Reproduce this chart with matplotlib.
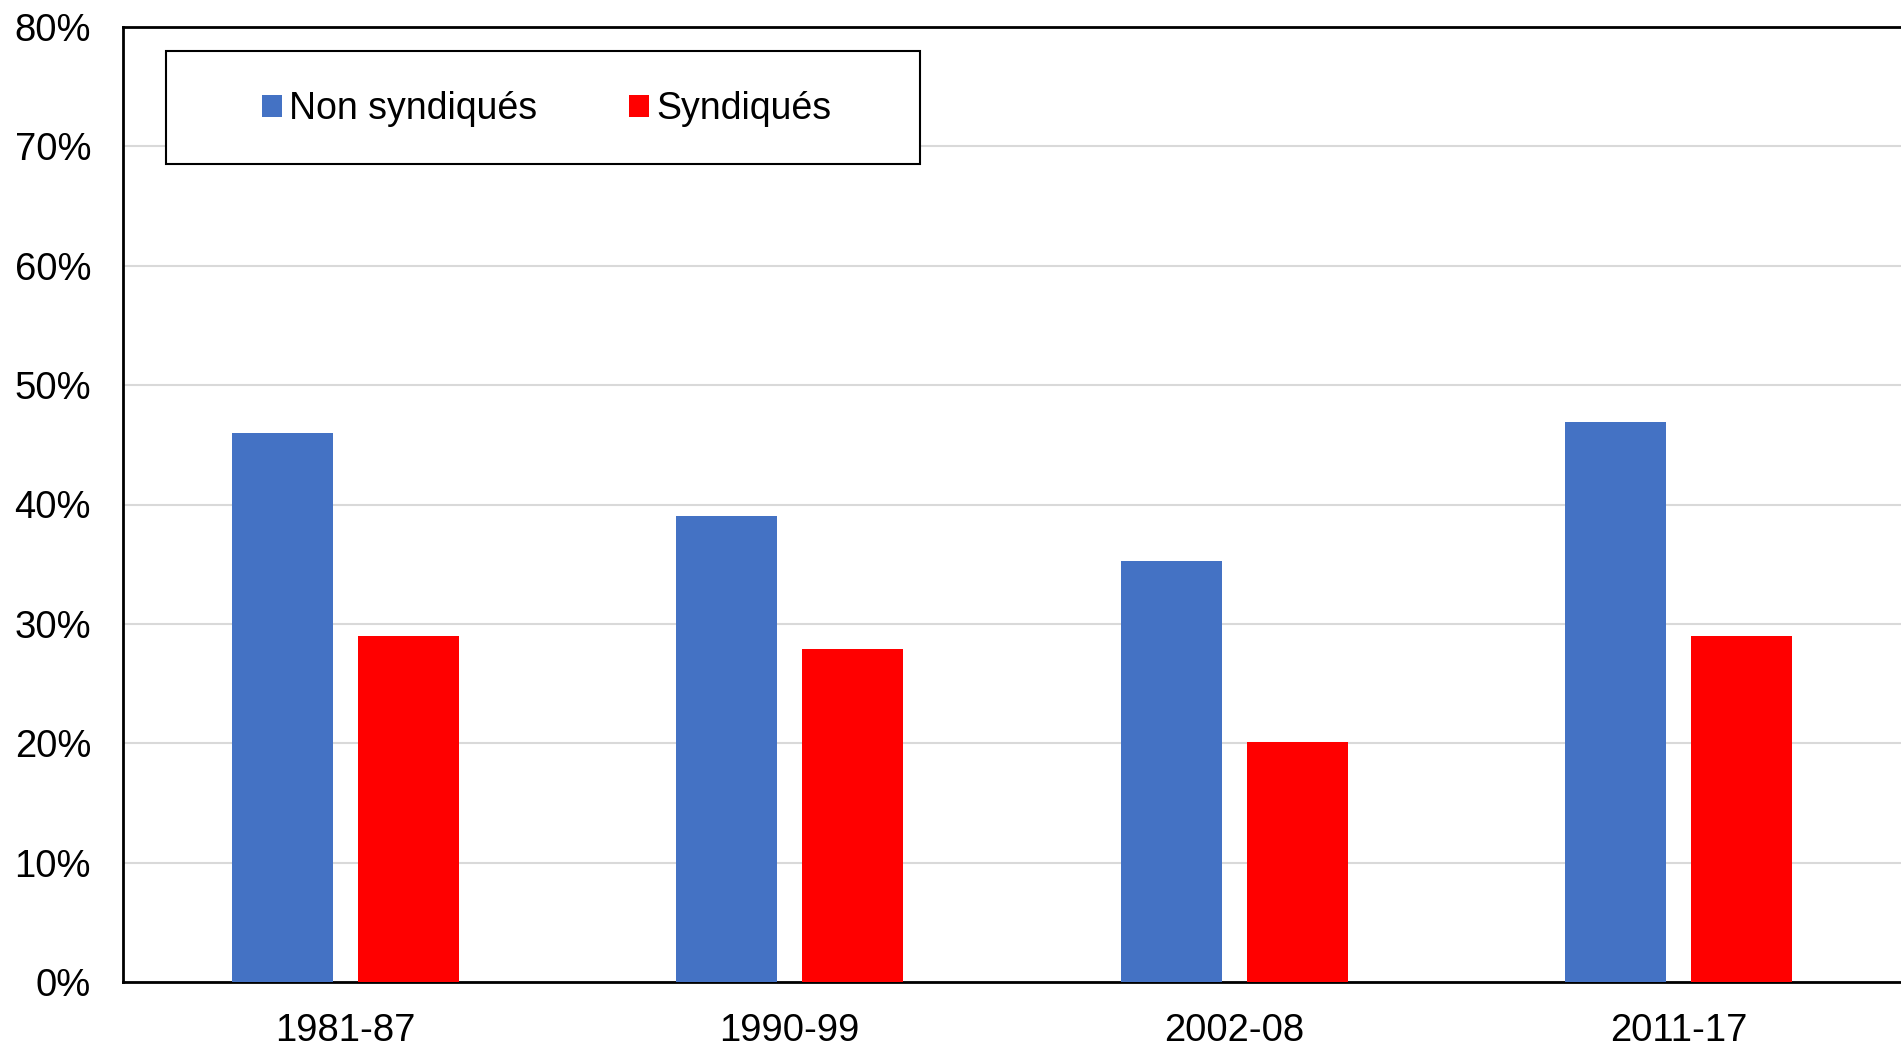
import matplotlib
matplotlib.use('Agg')
import matplotlib.pyplot as plt
from matplotlib.patches import Patch, Rectangle
import matplotlib.ticker as ticker
import numpy as np

plt.rcParams['font.family'] = ['Liberation Sans', 'DejaVu Sans']

# Data
periods = ['1981-87', '1990-99', '2002-08', '2011-17']
non_syndiques = [46.0, 39.0, 35.3, 46.9]
syndiques = [29.0, 27.9, 20.1, 29.0]
series_names = ['Non syndiqués', 'Syndiqués']

c_blue = '#4472C4'
c_red = '#FF0000'
grid_color = '#D9D9D9'

W, H = 1901, 1045
fig = plt.figure(figsize=(W / 100, H / 100), dpi=100)
fig.patch.set_facecolor('white')

# axes in pixel box: left 123, top 27, bottom 982, right edge of image
ax = fig.add_axes([123 / W, (H - 982) / H, (W - 123) / W, (982 - 27) / H])

x = np.arange(len(periods))
bar_w = 0.227
off = 0.1417
ax.bar(x - off, non_syndiques, bar_w, color=c_blue, zorder=3)
ax.bar(x + off, syndiques, bar_w, color=c_red, zorder=3)

ax.set_xlim(-0.5, len(periods) - 0.5)
ax.set_ylim(0, 80)
ax.yaxis.set_major_locator(ticker.MultipleLocator(10))
ax.yaxis.set_major_formatter(ticker.FuncFormatter(lambda v, p: f'{v:.0f}%'))
ax.set_xticks(x)
ax.set_xticklabels(periods)

ax.grid(axis='y', color=grid_color, linewidth=1.5, zorder=0)
ax.set_axisbelow(True)
ax.tick_params(axis='both', length=0, labelsize=27.5, colors='black')
ax.tick_params(axis='y', pad=23)
ax.tick_params(axis='x', pad=22)

for side in ['left', 'bottom', 'top']:
  ax.spines[side].set_linewidth(2)
  ax.spines[side].set_color('black')
ax.spines['right'].set_visible(False)

# legend frame
fig.patches.append(Rectangle((166 / W, (H - 164) / H), (920 - 166) / W, (164 - 51) / H,
                             transform=fig.transFigure, facecolor='white',
                             edgecolor='black', linewidth=1.5, zorder=5))
handles = [Patch(facecolor=c_blue), Patch(facecolor=c_red)]
leg = fig.legend(handles, series_names, loc='center left',
                 bbox_to_anchor=(262 / W, (H - 109) / H), ncol=2, frameon=False,
                 fontsize=27, handlelength=0.53, handleheight=0.53,
                 handletextpad=0.2, columnspacing=2.45, borderpad=0,
                 borderaxespad=0)
leg.set_zorder(6)

fig.savefig('out.png', dpi=100)
